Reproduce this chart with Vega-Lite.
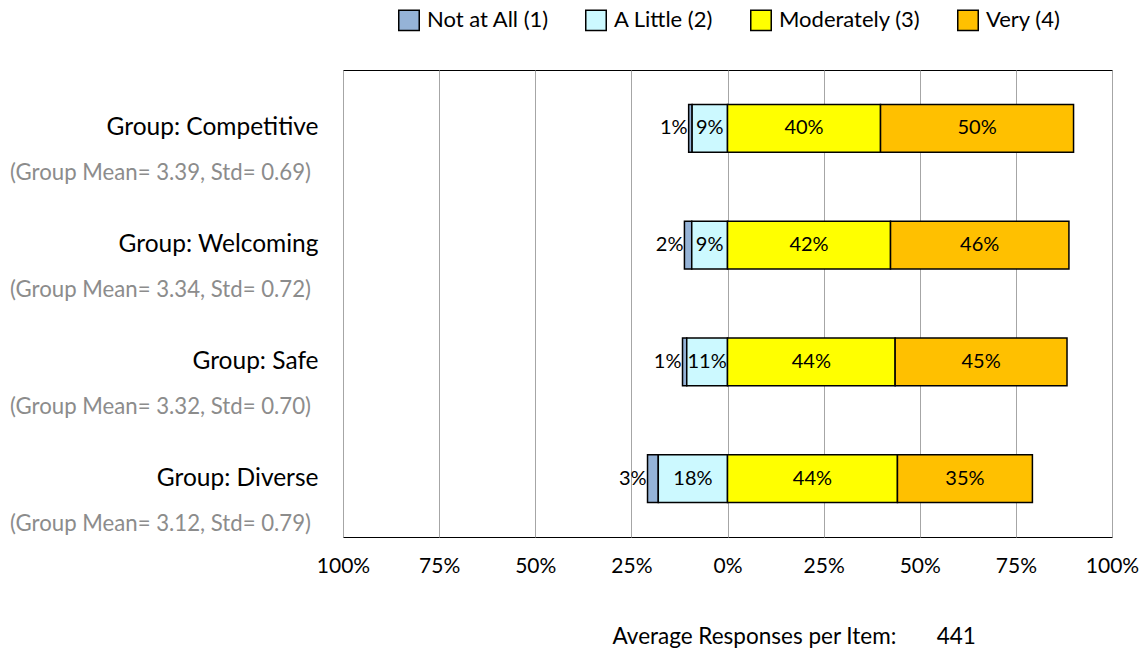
{
  "$schema": "https://vega.github.io/schema/vega-lite/v6.json",
  "width": 769,
  "height": 467,
  "autosize": {"type": "none"},
  "padding": {"left": 343, "top": 70, "right": 35, "bottom": 117},
  "background": "white",
  "config": {"font": "Lato", "view": {"stroke": "#000000", "strokeWidth": 1}},
  "datasets": {
    "responses": [
      {"item": "Group: Competitive", "category": "Not at All (1)", "value": -0.9},
      {"item": "Group: Competitive", "category": "A Little (2)", "value": -9.2},
      {"item": "Group: Competitive", "category": "Moderately (3)", "value": 39.8},
      {"item": "Group: Competitive", "category": "Very (4)", "value": 50.2},
      {"item": "Group: Welcoming", "category": "Not at All (1)", "value": -1.9},
      {"item": "Group: Welcoming", "category": "A Little (2)", "value": -9.3},
      {"item": "Group: Welcoming", "category": "Moderately (3)", "value": 42.4},
      {"item": "Group: Welcoming", "category": "Very (4)", "value": 46.4},
      {"item": "Group: Safe", "category": "Not at All (1)", "value": -1.1},
      {"item": "Group: Safe", "category": "A Little (2)", "value": -10.6},
      {"item": "Group: Safe", "category": "Moderately (3)", "value": 43.6},
      {"item": "Group: Safe", "category": "Very (4)", "value": 44.7},
      {"item": "Group: Diverse", "category": "Not at All (1)", "value": -2.8},
      {"item": "Group: Diverse", "category": "A Little (2)", "value": -18.0},
      {"item": "Group: Diverse", "category": "Moderately (3)", "value": 44.2},
      {"item": "Group: Diverse", "category": "Very (4)", "value": 35.1}
    ],
    "groups": [
      {"item": "Group: Competitive", "mean": 3.39, "std": 0.69},
      {"item": "Group: Welcoming", "mean": 3.34, "std": 0.72},
      {"item": "Group: Safe", "mean": 3.32, "std": 0.70},
      {"item": "Group: Diverse", "mean": 3.12, "std": 0.79}
    ]
  },
  "layer": [
    {
      "data": {"name": "responses"},
      "transform": [
        {"stack": "value", "groupby": ["item"], "sort": [{"field": "category", "order": "ascending"}], "as": ["v0", "v1"]}
      ],
      "mark": {"type": "bar", "stroke": "#000000", "strokeWidth": 1.5},
      "encoding": {
        "x": {
          "field": "v0", "type": "quantitative",
          "scale": {"domain": [-100, 100], "nice": false, "zero": false},
          "axis": {
            "values": [-100, -75, -50, -25, 0, 25, 50, 75, 100],
            "labelExpr": "abs(datum.value) + '%'",
            "grid": true, "gridColor": "#A6A6A6", "gridWidth": 1,
            "domain": false, "ticks": false,
            "labelFontSize": 21, "labelPadding": 18, "labelColor": "#000000",
            "labelFlush": false, "labelOverlap": false,
            "title": "Average Responses per Item:\u00a0\u00a0\u00a0\u00a0\u00a0\u00a0\u00a0441",
            "titleFontSize": 22.5, "titleFontWeight": "normal", "titleColor": "#000000",
            "titleX": 269, "titleY": 99, "titleAlign": "left", "titleBaseline": "middle", "titleAnchor": "start"
          }
        },
        "x2": {"field": "v1"},
        "y": {
          "field": "item", "type": "nominal",
          "sort": ["Group: Competitive", "Group: Welcoming", "Group: Safe", "Group: Diverse"],
          "scale": {"paddingInner": 0.59, "paddingOuter": 0.295},
          "axis": {
            "title": null, "domain": false, "ticks": false,
            "labelFontSize": 24.5, "labelPadding": 25, "labelColor": "#000000", "labelLimit": 400
          }
        },
        "color": {
          "field": "category", "type": "nominal",
          "scale": {
            "domain": ["Not at All (1)", "A Little (2)", "Moderately (3)", "Very (4)"],
            "range": ["#95B3D7", "#CCF9FF", "#FFFF00", "#FFC000"]
          },
          "legend": {
            "title": null, "orient": "none", "direction": "horizontal",
            "legendX": 55, "legendY": -61, "padding": 0,
            "symbolType": "square", "symbolSize": 420,
            "symbolStrokeColor": "#000000", "symbolStrokeWidth": 1.5,
            "labelFontSize": 22, "labelOffset": 7, "columnPadding": 33, "labelColor": "#000000"
          }
        }
      }
    },
    {
      "mark": {"type": "rule", "color": "#000000", "strokeWidth": 2},
      "encoding": {"x": {"datum": 0, "type": "quantitative"}}
    },
    {
      "data": {"name": "responses"},
      "transform": [
        {"stack": "value", "groupby": ["item"], "sort": [{"field": "category", "order": "ascending"}], "as": ["v0", "v1"]},
        {"fold": ["v0", "v1"], "as": ["edge", "pos"]},
        {"aggregate": [{"op": "mean", "field": "pos", "as": "mid"}, {"op": "min", "field": "pos", "as": "lo"}], "groupby": ["item", "category", "value"]},
        {"filter": "datum.category !== 'Not at All (1)'"}
      ],
      "mark": {"type": "text", "fontSize": 20, "baseline": "middle", "align": "center", "color": "#000000", "text": {"expr": "format(abs(datum.value), '.0f') + '%'"}},
      "encoding": {
        "x": {"field": "mid", "type": "quantitative"},
        "y": {"field": "item", "type": "nominal", "sort": ["Group: Competitive", "Group: Welcoming", "Group: Safe", "Group: Diverse"]}
      }
    },
    {
      "data": {"name": "responses"},
      "transform": [
        {"stack": "value", "groupby": ["item"], "sort": [{"field": "category", "order": "ascending"}], "as": ["v0", "v1"]},
        {"fold": ["v0", "v1"], "as": ["edge", "pos"]},
        {"aggregate": [{"op": "mean", "field": "pos", "as": "mid"}, {"op": "min", "field": "pos", "as": "lo"}], "groupby": ["item", "category", "value"]},
        {"filter": "datum.category === 'Not at All (1)'"}
      ],
      "mark": {"type": "text", "fontSize": 20, "baseline": "middle", "align": "right", "dx": -1, "color": "#000000", "text": {"expr": "format(abs(datum.value), '.0f') + '%'"}},
      "encoding": {
        "x": {"field": "lo", "type": "quantitative"},
        "y": {"field": "item", "type": "nominal", "sort": ["Group: Competitive", "Group: Welcoming", "Group: Safe", "Group: Diverse"]}
      }
    },
    {
      "data": {"name": "groups"},
      "mark": {"type": "text", "fontSize": 22.2, "baseline": "middle", "align": "right", "dx": -32, "dy": 45, "color": "#8C8C8C", "text": {"expr": "'(Group Mean= ' + format(datum.mean, '.2f') + ', Std= ' + format(datum.std, '.2f') + ')'"}},
      "encoding": {
        "x": {"datum": -100, "type": "quantitative"},
        "y": {"field": "item", "type": "nominal", "sort": ["Group: Competitive", "Group: Welcoming", "Group: Safe", "Group: Diverse"]}
      }
    }
  ]
}
